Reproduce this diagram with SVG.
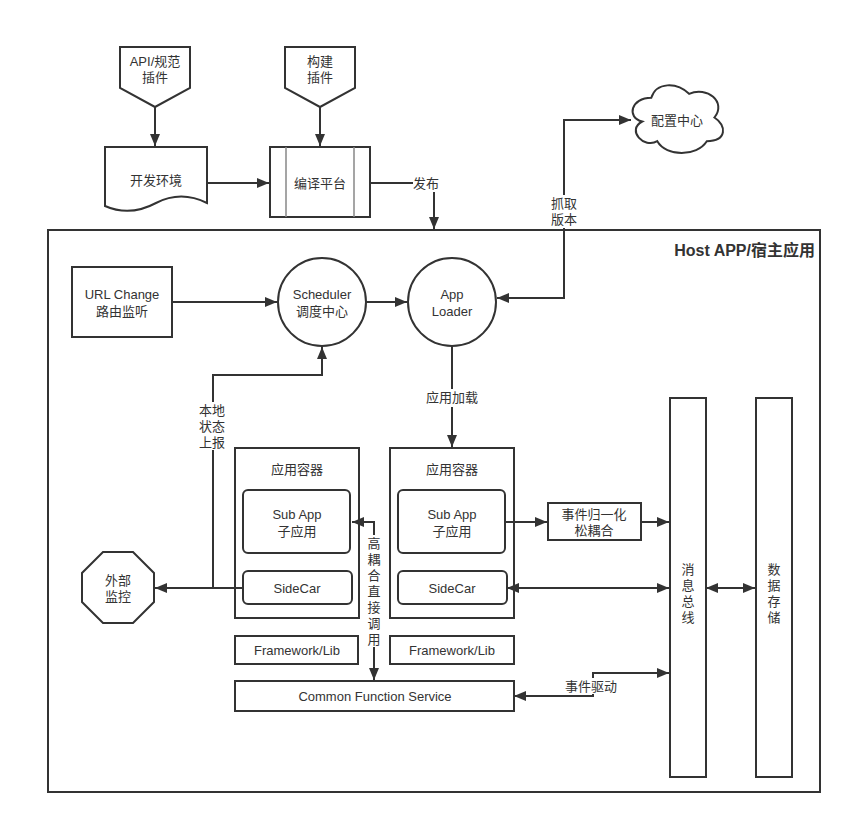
<svg xmlns="http://www.w3.org/2000/svg" width="852" height="824" viewBox="0 0 852 824">
<style>
.s{fill:#fff;stroke:#333;stroke-width:2}
.g{fill:none;stroke:#888;stroke-width:1.5}
.c{fill:none;stroke:#333;stroke-width:2}
text{font-family:"Liberation Sans","Noto Sans CJK SC",sans-serif;font-size:13px;fill:#333;text-anchor:middle;dominant-baseline:central}
.t{font-size:16px;font-weight:bold;text-anchor:end}
.bg{fill:#fff;stroke:none}
</style>
<defs>
<marker id="a" viewBox="0 0 12 10" refX="12" refY="5" markerWidth="12" markerHeight="10" orient="auto-start-reverse" markerUnits="userSpaceOnUse"><path d="M0,0 L12,5 L0,10 Z" fill="#333"/></marker>
</defs>
<rect width="852" height="824" fill="#fff"/>
<g id="host"><rect class="s" x="48" y="230" width="772" height="562"/><text class="t" x="815" y="250">Host APP/宿主应用</text></g>
<g id="api"><path class="s" d="M120,47 H190 V88 L155,107 L120,88 Z"/><text x="155" y="61">API/规范<tspan x="155" dy="16">插件</tspan></text></g>
<g id="build"><path class="s" d="M285,47 H355 V88 L320,107 L285,88 Z"/><text x="320" y="61">构建<tspan x="320" dy="16">插件</tspan></text></g>
<g id="devenv"><path class="s" d="M105,147 H207 V203 Q181,190 156,203 Q130,217 105,206 Z"/><text x="156" y="180">开发环境</text></g>
<g id="compile"><rect class="s" x="270" y="147" width="100" height="70"/><path class="g" d="M286,147 V217 M354,147 V217"/><text x="320" y="183">编译平台</text></g>
<g id="config"><path class="s" d="M651.3,97.8 C631,97.8 626,117.5 642.2,121.5 C626,130.1 644.2,149.1 657.3,141.2 C666.4,157 696.7,157 706.8,141.2 C727,141.2 727,125.4 714.4,117.5 C727,101.7 706.8,85.9 689.1,93.8 C676.5,81.9 656.3,81.9 651.3,97.8 Z"/><text x="677" y="120">配置中心</text></g>
<g id="url"><rect class="s" x="72" y="267" width="100" height="70"/><text x="122" y="294">URL Change<tspan x="122" dy="17">路由监听</tspan></text></g>
<g id="scheduler"><circle class="s" cx="322" cy="302" r="44"/><text x="322" y="294">Scheduler<tspan x="322" dy="17">调度中心</tspan></text></g>
<g id="loader"><circle class="s" cx="452" cy="302" r="44"/><text x="452" y="294">App<tspan x="452" dy="17">Loader</tspan></text></g>
<g id="container1"><rect class="s" x="235" y="448" width="124" height="170"/><text x="297" y="469">应用容器</text>
<rect class="s" x="243" y="490" width="107" height="63" rx="5"/><text x="297" y="514">Sub App<tspan x="297" dy="17">子应用</tspan></text>
<rect class="s" x="243" y="571" width="109" height="33" rx="5"/><text x="297" y="588">SideCar</text></g>
<g id="container2"><rect class="s" x="390" y="448" width="124" height="170"/><text x="452" y="469">应用容器</text>
<rect class="s" x="398" y="490" width="107" height="63" rx="5"/><text x="452" y="514">Sub App<tspan x="452" dy="17">子应用</tspan></text>
<rect class="s" x="398" y="571" width="109" height="33" rx="5"/><text x="452" y="588">SideCar</text></g>
<g id="fw1"><rect class="s" x="235" y="636" width="123" height="28"/><text x="297" y="650">Framework/Lib</text></g>
<g id="fw2"><rect class="s" x="390" y="636" width="124" height="28"/><text x="452" y="650">Framework/Lib</text></g>
<g id="cfs"><rect class="s" x="235" y="681" width="279" height="30"/><text x="375" y="696">Common Function Service</text></g>
<g id="monitor"><polygon class="s" points="103,552 133,552 154,573 154,602 133,623 103,623 82,602 82,573"/><text x="118" y="580">外部<tspan x="118" dy="16">监控</tspan></text></g>
<g id="normalize"><rect class="s" x="548" y="503" width="93" height="37"/><text x="594" y="514">事件归一化<tspan x="594" dy="16">松耦合</tspan></text></g>
<g id="bus"><rect class="s" x="670" y="398" width="36" height="379"/><text x="688" y="569">消<tspan x="688" dy="16">息</tspan><tspan x="688" dy="16">总</tspan><tspan x="688" dy="16">线</tspan></text></g>
<g id="store"><rect class="s" x="756" y="398" width="36" height="379"/><text x="774" y="569">数<tspan x="774" dy="16">据</tspan><tspan x="774" dy="16">存</tspan><tspan x="774" dy="16">储</tspan></text></g>
<g id="connectors">
<path class="c" d="M155,107 V146" marker-end="url(#a)"/>
<path class="c" d="M320,107 V146" marker-end="url(#a)"/>
<path class="c" d="M207,183 H269" marker-end="url(#a)"/>
<path class="c" d="M370,183 H434 V229" marker-end="url(#a)"/>
<rect class="bg" x="413" y="175" width="26" height="17"/><text x="426" y="183">发布</text>
<path class="c" d="M497,298 H564 V120 H631" marker-start="url(#a)" marker-end="url(#a)"/>
<rect class="bg" x="550" y="195" width="28" height="33"/><text x="564" y="203">抓取<tspan x="564" dy="16">版本</tspan></text>
<path class="c" d="M172,302 H277" marker-end="url(#a)"/>
<path class="c" d="M366,302 H407" marker-end="url(#a)"/>
<path class="c" d="M452,346 V447" marker-end="url(#a)"/>
<rect class="bg" x="425" y="389" width="54" height="18"/><text x="452" y="397">应用加载</text>
<path class="c" d="M243,588 H155" marker-end="url(#a)"/>
<path class="c" d="M213,588 V375 H322 V347" marker-end="url(#a)"/>
<rect class="bg" x="198" y="402" width="30" height="48"/><text x="212" y="410">本地<tspan x="212" dy="16">状态</tspan><tspan x="212" dy="16">上报</tspan></text>
<path class="c" d="M352,522 H374 V680" marker-start="url(#a)" marker-end="url(#a)"/>
<rect class="bg" x="366" y="535" width="16" height="112"/>
<text x="374" y="543">高<tspan x="374" dy="16">耦</tspan><tspan x="374" dy="16">合</tspan><tspan x="374" dy="16">直</tspan><tspan x="374" dy="16">接</tspan><tspan x="374" dy="16">调</tspan><tspan x="374" dy="16">用</tspan></text>
<path class="c" d="M505,522 H547" marker-end="url(#a)"/>
<path class="c" d="M641,522 H669" marker-end="url(#a)"/>
<path class="c" d="M507,588 H669" marker-start="url(#a)" marker-end="url(#a)"/>
<path class="c" d="M706,588 H755" marker-start="url(#a)" marker-end="url(#a)"/>
<path class="c" d="M514,696 H593 V673 H669" marker-start="url(#a)" marker-end="url(#a)"/>
<rect class="bg" x="564" y="678" width="55" height="16"/><text x="591" y="686">事件驱动</text>
</g>
</svg>
